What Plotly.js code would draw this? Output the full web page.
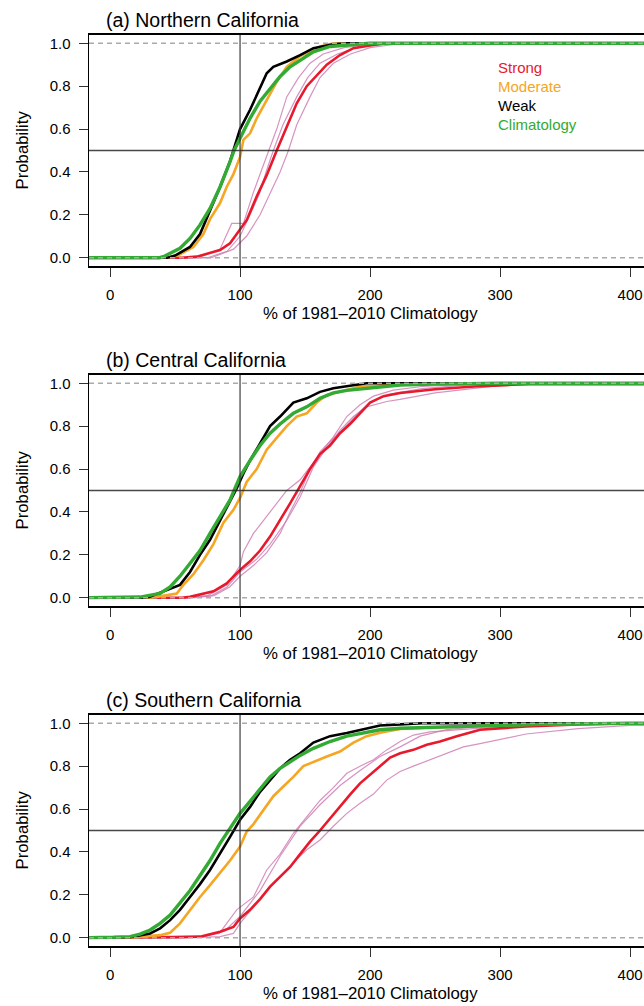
<!DOCTYPE html>
<html>
<head>
<meta charset="utf-8">
<script src="https://cdn.plot.ly/plotly-3.0.1.min.js"></script>
<style>
html,body{margin:0;padding:0;overflow:hidden;background:#fff;}
#chart{width:660px;height:1006px;}
</style>
</head>
<body>
<div id="chart"></div>
<script>
// ---------- Data (x: % of 1981-2010 climatology, p: cumulative probability) ----------
const panelTitles = ["(a) Northern California", "(b) Central California", "(c) Southern California"];
const seriesNames = ["Strong", "Moderate", "Weak", "Climatology"];
const xTickVals = [0, 100, 200, 300, 400];
const yTickVals = [0, 0.2, 0.4, 0.6, 0.8, 1.0];

// Panel (a) Northern California
const a_clim_x = [-20, 38, 41, 53.8, 61.5, 69.2, 76.9, 84.6, 92.3, 95.4, 100, 107.7, 115.4, 123.1, 130.8, 138.5, 146.2, 156.4, 169.2, 182.1, 200, 420];
const a_clim_p = [0, 0, 0.005, 0.044, 0.09, 0.153, 0.23, 0.33, 0.448, 0.5, 0.557, 0.65, 0.73, 0.79, 0.845, 0.89, 0.92, 0.96, 0.985, 0.992, 1, 1];
const a_weak_x = [-20, 44, 50, 61.5, 69.2, 76.9, 84.6, 92.3, 97.4, 100, 107.7, 112.8, 120.5, 125.6, 135.9, 146.2, 156.4, 171.8, 182.1, 420];
const a_weak_p = [0, 0, 0.01, 0.05, 0.11, 0.22, 0.33, 0.45, 0.55, 0.60, 0.69, 0.76, 0.86, 0.89, 0.915, 0.945, 0.977, 0.995, 1, 1];
const a_mod_x = [-20, 44, 52, 64.1, 71.8, 76.9, 84.6, 89.7, 94.9, 100, 102.6, 107.7, 112.8, 117.9, 123.1, 128.2, 135.9, 146.2, 161.5, 171.8, 420];
const a_mod_p = [0, 0, 0.01, 0.05, 0.11, 0.18, 0.255, 0.33, 0.39, 0.47, 0.55, 0.58, 0.65, 0.705, 0.767, 0.82, 0.89, 0.94, 0.985, 1, 1];
const a_str_x = [-20, 55, 66.7, 84.6, 92.3, 100, 105.1, 112.8, 120.5, 128.2, 135.9, 143.6, 151.3, 159, 166.7, 176.9, 187.2, 200, 213, 420];
const a_str_p = [0, 0, 0.005, 0.036, 0.067, 0.13, 0.175, 0.285, 0.385, 0.5, 0.61, 0.72, 0.80, 0.85, 0.90, 0.945, 0.977, 0.99, 1, 1];
const a_ev1_x = [-20, 68, 84.6, 93.6, 102.6, 110, 116, 121.8, 128.2, 135.9, 145, 153.8, 164, 180, 200, 215, 420];
const a_ev1_p = [0, 0, 0.04, 0.16, 0.16, 0.30, 0.40, 0.50, 0.60, 0.75, 0.84, 0.907, 0.95, 0.98, 0.995, 1, 1];
const a_ev2_x = [-20, 75, 90, 100, 107.7, 115, 120, 125.6, 133, 143.6, 152, 161.5, 175, 192, 215, 420];
const a_ev2_p = [0, 0, 0.03, 0.10, 0.20, 0.30, 0.40, 0.50, 0.62, 0.75, 0.84, 0.907, 0.95, 0.985, 1, 1];
const a_ev3_x = [-20, 78, 95, 105, 115.4, 123.1, 130.8, 137.2, 143.6, 153.8, 161.5, 171.8, 185, 200, 225, 420];
const a_ev3_p = [0, 0, 0.04, 0.10, 0.20, 0.30, 0.40, 0.50, 0.62, 0.75, 0.84, 0.907, 0.95, 0.98, 1, 1];

// Panel (b) Central California
const b_clim_x = [-20, 20, 23.1, 38.5, 46.2, 53.8, 61.5, 69.2, 76.9, 84.6, 92.3, 95.4, 100, 107.7, 115.4, 123.1, 130.8, 141, 151.3, 161.5, 171.8, 182.1, 197.4, 212.8, 223, 250, 300, 420];
const b_clim_p = [0, 0, 0.003, 0.02, 0.05, 0.10, 0.16, 0.22, 0.30, 0.38, 0.456, 0.50, 0.565, 0.64, 0.71, 0.767, 0.81, 0.86, 0.89, 0.93, 0.955, 0.967, 0.977, 0.988, 0.992, 0.996, 1, 1];
const b_weak_x = [-20, 25, 30, 53.8, 61.5, 69.2, 76.9, 84.6, 92.3, 97.4, 102.6, 107.7, 115.4, 123.1, 130.8, 141, 151.3, 161.5, 171.8, 187.2, 197.4, 420];
const b_weak_p = [0, 0, 0.004, 0.06, 0.12, 0.20, 0.27, 0.36, 0.456, 0.51, 0.58, 0.64, 0.72, 0.80, 0.845, 0.91, 0.93, 0.96, 0.977, 0.99, 1, 1];
const b_mod_x = [-20, 30, 35.9, 51.3, 56.4, 64.1, 71.8, 79.5, 87.2, 94.9, 100, 105.1, 112.8, 120.5, 128.2, 135.9, 143.6, 151.3, 159, 166.7, 176.9, 192.3, 207.7, 223, 250, 420];
const b_mod_p = [0, 0, 0.004, 0.02, 0.06, 0.11, 0.175, 0.25, 0.35, 0.41, 0.465, 0.54, 0.60, 0.69, 0.745, 0.80, 0.845, 0.86, 0.91, 0.945, 0.96, 0.985, 0.99, 0.995, 1, 1];
const b_str_x = [-20, 55, 61.5, 79.5, 89.7, 100, 107.7, 115.4, 123.1, 130.8, 138.5, 146.2, 153.8, 161.5, 169.2, 176.9, 184.6, 192.3, 200, 210.3, 223.1, 250, 280, 300, 330, 420];
const b_str_p = [0, 0, 0.004, 0.03, 0.067, 0.13, 0.17, 0.22, 0.285, 0.36, 0.44, 0.52, 0.60, 0.67, 0.71, 0.767, 0.81, 0.86, 0.91, 0.94, 0.955, 0.972, 0.985, 0.99, 1, 1];
const b_ev1_x = [-20, 60, 75, 90, 100, 102.6, 110.3, 120.5, 130.8, 135.9, 146.2, 153.8, 161.5, 171.8, 182.1, 192.3, 202.6, 217.9, 240, 270, 300, 420];
const b_ev1_p = [0, 0, 0.01, 0.06, 0.15, 0.215, 0.30, 0.38, 0.456, 0.50, 0.55, 0.61, 0.67, 0.75, 0.845, 0.90, 0.94, 0.968, 0.985, 0.995, 1, 1];
const b_ev2_x = [-20, 65, 80, 92, 100, 110.3, 120.5, 130.8, 138.5, 146.2, 153.8, 161.5, 169.2, 176.9, 184.6, 192.3, 200, 215, 240, 270, 300, 420];
const b_ev2_p = [0, 0, 0.01, 0.05, 0.10, 0.15, 0.21, 0.30, 0.40, 0.49, 0.60, 0.68, 0.73, 0.77, 0.82, 0.87, 0.91, 0.95, 0.975, 0.99, 1, 1];
const b_ev3_x = [-20, 62, 78, 90, 100, 112.8, 123.1, 135.9, 146.2, 156.4, 166.7, 176.9, 187.2, 197.4, 212.8, 223.1, 250, 280, 300, 420];
const b_ev3_p = [0, 0, 0.01, 0.05, 0.12, 0.18, 0.25, 0.36, 0.47, 0.61, 0.70, 0.78, 0.845, 0.89, 0.915, 0.925, 0.955, 0.975, 0.99, 0.99];

// Panel (c) Southern California
const c_clim_x = [-20, 0, 2.6, 15.4, 23.1, 30.8, 38.5, 46.2, 53.8, 61.5, 69.2, 76.9, 84.6, 92.3, 100, 107.7, 115.4, 123.1, 130.8, 138.5, 146.2, 156.4, 169.2, 182.1, 194.9, 207.7, 223.1, 246.2, 284.6, 330, 400, 420];
const c_clim_p = [0, 0, 0.002, 0.005, 0.017, 0.036, 0.067, 0.106, 0.16, 0.22, 0.29, 0.36, 0.44, 0.51, 0.58, 0.636, 0.69, 0.75, 0.79, 0.82, 0.85, 0.883, 0.915, 0.94, 0.956, 0.97, 0.977, 0.981, 0.988, 0.995, 1, 1];
const c_weak_x = [-20, 10, 15.4, 30.8, 38.5, 46.2, 53.8, 61.5, 69.2, 76.9, 84.6, 92.3, 100, 107.7, 115.4, 123.1, 130.8, 138.5, 146.2, 156.4, 169.2, 182.1, 194.9, 207.7, 223.1, 240, 420];
const c_weak_p = [0, 0, 0.003, 0.02, 0.044, 0.082, 0.13, 0.19, 0.25, 0.316, 0.39, 0.47, 0.55, 0.61, 0.68, 0.735, 0.79, 0.83, 0.86, 0.91, 0.94, 0.955, 0.973, 0.99, 0.995, 1, 1];
const c_mod_x = [-20, 15, 20.5, 38.5, 46.2, 53.8, 61.5, 69.2, 76.9, 84.6, 92.3, 100, 105.1, 110.3, 117.9, 125.6, 133.3, 141, 148.7, 156.4, 166.7, 176.9, 187.2, 197.4, 207.7, 223.1, 246.2, 284.6, 330, 400, 420];
const c_mod_p = [0, 0, 0.003, 0.012, 0.023, 0.067, 0.13, 0.19, 0.245, 0.30, 0.36, 0.425, 0.495, 0.53, 0.596, 0.66, 0.705, 0.75, 0.80, 0.82, 0.845, 0.868, 0.91, 0.94, 0.956, 0.973, 0.98, 0.988, 0.995, 1, 1];
const c_str_x = [-20, 40, 48.7, 69.2, 84.6, 94.9, 100, 107.7, 115.4, 123.1, 130.8, 138.5, 146.2, 153.8, 161.5, 169.2, 176.9, 184.6, 192.3, 200, 207.7, 215.4, 223.1, 233.3, 243.6, 253.8, 266.7, 284.6, 320, 360, 400, 420];
const c_str_p = [0, 0, 0.003, 0.005, 0.028, 0.05, 0.09, 0.13, 0.18, 0.238, 0.285, 0.33, 0.39, 0.448, 0.50, 0.557, 0.61, 0.667, 0.72, 0.76, 0.80, 0.84, 0.86, 0.876, 0.90, 0.915, 0.94, 0.97, 0.985, 0.995, 1, 1];
const c_ev1_x = [-20, 55, 70, 84, 97.4, 110.3, 120.5, 130.8, 141, 151.3, 161.5, 171.8, 182.1, 192.3, 202.6, 212.8, 223.1, 233.3, 246.2, 284.6, 330, 400, 420];
const c_ev1_p = [0, 0, 0.005, 0.02, 0.13, 0.19, 0.316, 0.39, 0.487, 0.565, 0.64, 0.70, 0.767, 0.80, 0.83, 0.876, 0.915, 0.945, 0.96, 0.977, 0.99, 1, 1];
const c_ev2_x = [-20, 55, 72, 88, 100, 115.4, 130.8, 146.2, 161.5, 176.9, 192.3, 207.7, 223.1, 238.5, 259, 284.6, 330, 400, 420];
const c_ev2_p = [0, 0, 0.005, 0.03, 0.10, 0.22, 0.38, 0.52, 0.62, 0.71, 0.78, 0.845, 0.89, 0.94, 0.97, 0.985, 0.995, 1, 1];
const c_ev3_x = [-20, 60, 84.6, 94.9, 100, 110.3, 120.5, 130.8, 141, 151.3, 161.5, 171.8, 182.1, 192.3, 202.6, 212.8, 223.1, 233.3, 246.2, 259, 271.8, 284.6, 320, 360, 400, 420];
const c_ev3_p = [0, 0, 0.005, 0.02, 0.067, 0.145, 0.22, 0.285, 0.35, 0.41, 0.456, 0.52, 0.58, 0.627, 0.67, 0.735, 0.775, 0.80, 0.83, 0.86, 0.89, 0.905, 0.95, 0.975, 0.99, 0.99];

// ---------- Styling ----------
const FONT = "Liberation Sans, Arial, Helvetica, sans-serif";
const colors = {Strong: "#E8192C", Moderate: "#F5A623", Weak: "#000000", Climatology: "#33AA33"};
const eventColor = "rgba(205,120,175,0.8)";

const panels = [
  {ev: [[a_ev1_x,a_ev1_p],[a_ev2_x,a_ev2_p],[a_ev3_x,a_ev3_p]], str:[a_str_x,a_str_p], mod:[a_mod_x,a_mod_p], weak:[a_weak_x,a_weak_p], clim:[a_clim_x,a_clim_p]},
  {ev: [[b_ev1_x,b_ev1_p],[b_ev2_x,b_ev2_p],[b_ev3_x,b_ev3_p]], str:[b_str_x,b_str_p], mod:[b_mod_x,b_mod_p], weak:[b_weak_x,b_weak_p], clim:[b_clim_x,b_clim_p]},
  {ev: [[c_ev1_x,c_ev1_p],[c_ev2_x,c_ev2_p],[c_ev3_x,c_ev3_p]], str:[c_str_x,c_str_p], mod:[c_mod_x,c_mod_p], weak:[c_weak_x,c_weak_p], clim:[c_clim_x,c_clim_p]}
];

// geometry (page pixels)
const PAGE_H = 1006, L = 89, PW = 562;
const yDomains = [[0.73529, 0.96551], [0.39732, 0.62753], [0.05934, 0.28956]];
const oneLinePx = [43.3, 383.3, 723.3];
const px2paperX = px => (px - L) / PW;
const px2paperY = py => 1 - py / PAGE_H;

const traces = [];
const layout = {
  width: 660, height: PAGE_H,
  margin: {l: L, r: 9, t: 0, b: 0},
  paper_bgcolor: "#fff", plot_bgcolor: "#fff",
  showlegend: false,
  font: {family: FONT, size: 15, color: "#000"},
  shapes: [], annotations: []
};

panels.forEach((pn, i) => {
  const sx = i === 0 ? "" : String(i + 1);
  const xa = "x" + sx, ya = "y" + sx;
  const add = (xy, color, width, name) => traces.push({
    type: "scatter", mode: "lines", x: xy[0], y: xy[1], xaxis: xa, yaxis: ya,
    line: {color: color, width: width}, name: name, hoverinfo: "skip"
  });
  pn.ev.forEach(e => add(e, eventColor, 1.2, "Strong event"));
  add(pn.str, colors.Strong, 2.6, "Strong");
  add(pn.mod, colors.Moderate, 2.6, "Moderate");
  add(pn.weak, colors.Weak, 2.6, "Weak");
  add(pn.clim, colors.Climatology, 3.4, "Climatology");

  layout["xaxis" + sx] = {
    domain: [0, 1], range: [-16.2, 416.1], anchor: ya,
    tickmode: "array", tickvals: xTickVals, ticktext: xTickVals.map(String),
    ticks: "outside", ticklen: 9, tickwidth: 1, tickcolor: "#333",
    showline: true, mirror: true, linecolor: "#000", linewidth: 1.5,
    showgrid: false, zeroline: false, ticklabelstandoff: 5,
    tickfont: {family: FONT, size: 15, color: "#000"}
  };
  layout["yaxis" + sx] = {
    domain: yDomains[i], range: [-0.04, 1.04], anchor: xa,
    tickmode: "array", tickvals: yTickVals, ticktext: yTickVals.map(v => v.toFixed(1)),
    ticks: "outside", ticklen: 9, tickwidth: 1, tickcolor: "#333",
    showline: true, mirror: true, linecolor: "#000", linewidth: 1.5,
    showgrid: false, zeroline: false, ticklabelstandoff: 5,
    tickfont: {family: FONT, size: 15, color: "#000"}
  };

  // reference lines
  layout.shapes.push(
    {type: "line", xref: xa + " domain", yref: ya, x0: 0, x1: 1, y0: 0.5, y1: 0.5, layer: "above", line: {color: "rgba(40,40,40,0.85)", width: 1.5}},
    {type: "line", xref: xa, yref: ya + " domain", x0: 100, x1: 100, y0: 0, y1: 1, layer: "above", line: {color: "rgba(50,50,50,0.75)", width: 1.5}},
    {type: "line", xref: xa + " domain", yref: ya, x0: 0, x1: 1, y0: 0, y1: 0, layer: "above", line: {color: "#aaaaaa", width: 1.5, dash: "5px,4px"}},
    {type: "line", xref: xa + " domain", yref: ya, x0: 0, x1: 1, y0: 1, y1: 1, layer: "above", line: {color: "#aaaaaa", width: 1.5, dash: "5px,4px"}}
  );

  const top = oneLinePx[i];
  // panel title
  layout.annotations.push({
    text: panelTitles[i], xref: "paper", yref: "paper",
    x: px2paperX(103.5), y: px2paperY(top - 23.5), xanchor: "left", yanchor: "middle",
    showarrow: false, font: {family: FONT, size: 19.5, color: "#000"}
  });
  // x axis title
  layout.annotations.push({
    text: "% of 1981\u20132010 Climatology", xref: "paper", yref: "paper",
    x: 0.5, y: px2paperY(top + 270), xanchor: "center", yanchor: "middle",
    showarrow: false, font: {family: FONT, size: 16.8, color: "#000"}
  });
  // y axis title
  layout.annotations.push({
    text: "Probability", xref: "paper", yref: "paper", textangle: -90,
    x: px2paperX(22), y: px2paperY(top + 107.2), xanchor: "center", yanchor: "middle",
    showarrow: false, font: {family: FONT, size: 16.8, color: "#000"}
  });
});

// legend text (panel a)
const legendY = [0.885, 0.797, 0.708, 0.619];
seriesNames.forEach((nm, k) => layout.annotations.push({
  text: nm, xref: "x", yref: "y", x: 297, y: legendY[k], xanchor: "left", yanchor: "middle",
  showarrow: false, font: {family: FONT, size: 15, color: colors[nm]}
}));

Plotly.newPlot("chart", traces, layout, {staticPlot: true, displayModeBar: false});
</script>
</body>
</html>
